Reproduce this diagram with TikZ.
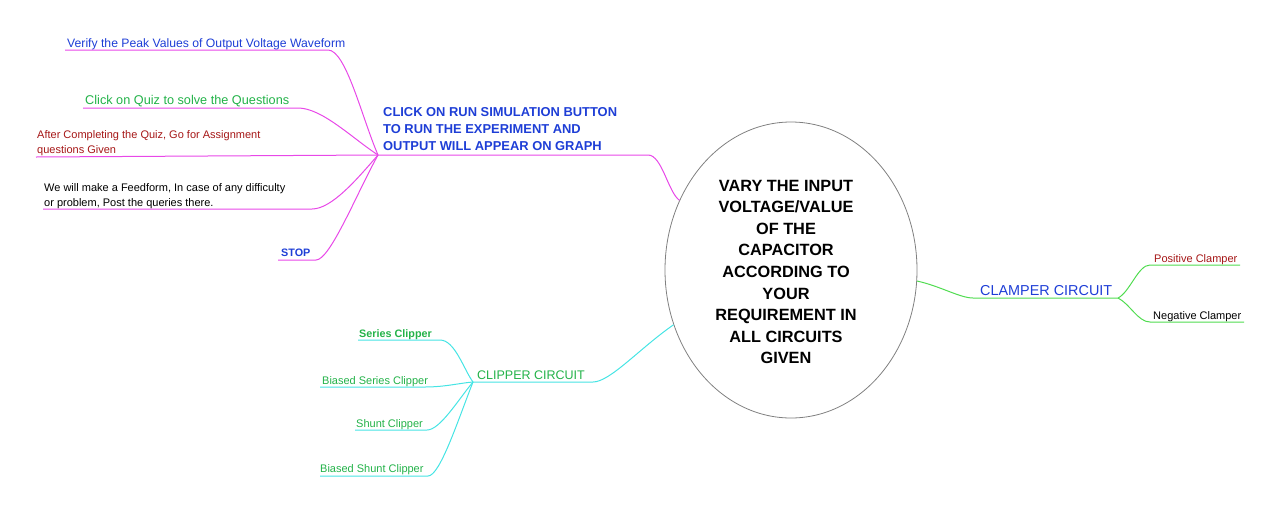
\documentclass[tikz,border=0pt]{standalone}
\usepackage{fontspec}
\setmainfont{Liberation Sans}
\usetikzlibrary{shapes.geometric}

\definecolor{magline}{RGB}{232,72,232}
\definecolor{cyanline}{RGB}{70,228,228}
\definecolor{greenline}{RGB}{80,220,80}
\definecolor{tblue}{RGB}{30,62,214}
\definecolor{tgreen}{RGB}{34,178,72}
\definecolor{tred}{RGB}{165,22,22}

\begin{document}
\begin{tikzpicture}[
  x=1pt, y=-1pt,
  centre/.style={ellipse, draw=black!50, line width=0.8pt,
              minimum width=252pt, minimum height=296pt, inner sep=0pt,
              align=center, font=\bfseries\fontsize{16.3}{21.6}\selectfont},
  leaf/.style={inner sep=0pt, align=left, font=\fontsize{11}{15}\selectfont},
  bigleaf/.style={leaf, font=\fontsize{12.7}{15}\selectfont},
  boldleaf/.style={leaf, font=\bfseries\fontsize{10.8}{15}\selectfont},
  branch/.style={inner sep=0pt, align=left},
  mag/.style={draw=magline, line width=1pt},
  cya/.style={draw=cyanline, line width=1pt},
  grn/.style={draw=greenline, line width=1pt},
]

\useasboundingbox (0,0) rectangle (1280,512);

% hubs
\coordinate (runhub) at (378,155);
\coordinate (cliphub) at (473,382);
\coordinate (clamphub) at (1118,298);

% centre
\node[centre] (vary) at (791,270) {};
\node[align=center, inner sep=0pt, font=\bfseries\fontsize{16.3}{21.6}\selectfont]
  (varytext) at (786,272) {VARY THE INPUT\\VOLTAGE/VALUE\\OF THE\\CAPACITOR\\ACCORDING TO\\YOUR\\REQUIREMENT IN\\ALL CIRCUITS\\GIVEN};

% run simulation branch
\node[branch, anchor=north west, text=tblue,
      font=\bfseries\fontsize{12.9}{17}\selectfont] (run) at (383,107.5)
  {CLICK ON RUN SIMULATION BUTTON\\TO RUN THE EXPERIMENT AND\\OUTPUT WILL APPEAR ON GRAPH};
\coordinate (run-e) at (648,155);
\draw[mag] (runhub) -- (run-e) .. controls (662,155) and (668,192) .. (vary.148);

\node[bigleaf, anchor=base west, text=tblue, font=\fontsize{12.2}{15}\selectfont] (verify) at (67,47)
  {Verify the Peak Values of Output Voltage Waveform};
\coordinate (verify-a) at (65,50);
\coordinate (verify-b) at (328,50);
\draw[mag] (verify-a) -- (verify-b) .. controls (346,50) and (362,118) .. (runhub);

\node[bigleaf, anchor=base west, text=tgreen] (quiz) at (85,104.5)
  {Click on Quiz to solve the Questions};
\coordinate (quiz-a) at (83,108);
\coordinate (quiz-b) at (298,108);
\draw[mag] (quiz-a) -- (quiz-b) .. controls (322,108) and (352,138) .. (runhub);

\node[leaf, anchor=north west, text=tred] (assign) at (37,130)
  {After Completing the Quiz, Go for Assignment\\questions Given};
\coordinate (assign-a) at (36,157);
\draw[mag] (assign-a) -- (runhub);

\node[leaf, anchor=north west] (feed) at (44,183)
  {We will make a Feedform, In case of any difficulty\\or problem, Post the queries there.};
\coordinate (feed-a) at (43,209);
\coordinate (feed-b) at (312,209);
\draw[mag] (feed-a) -- (feed-b) .. controls (332,209) and (358,178) .. (runhub);

\node[boldleaf, anchor=base west, text=tblue] (stop) at (281,256) {STOP};
\coordinate (stop-a) at (278,260);
\coordinate (stop-b) at (316,260);
\draw[mag] (stop-a) -- (stop-b) .. controls (330,260) and (356,195) .. (runhub);

% clipper branch
\node[branch, anchor=base west, text=tgreen,
      font=\fontsize{12.5}{15}\selectfont] (clipper) at (477,379) {CLIPPER CIRCUIT};
\coordinate (clip-e) at (593,382);
\draw[cya] (cliphub) -- (clip-e) .. controls (610,382) and (640,348) .. (vary.205);

\node[boldleaf, anchor=base west, text=tgreen] (series) at (359,337) {Series Clipper};
\coordinate (series-a) at (358,340);
\coordinate (series-b) at (440,340);
\draw[cya] (series-a) -- (series-b) .. controls (455,340) and (464,370) .. (cliphub);

\node[leaf, anchor=base west, text=tgreen] (bseries) at (322,384) {Biased Series Clipper};
\coordinate (bseries-a) at (320,387);
\coordinate (bseries-b) at (425,387);
\draw[cya] (bseries-a) -- (bseries-b) .. controls (445,387) and (460,383) .. (cliphub);

\node[leaf, anchor=base west, text=tgreen] (shunt) at (356,427) {Shunt Clipper};
\coordinate (shunt-a) at (355,430);
\coordinate (shunt-b) at (427,430);
\draw[cya] (shunt-a) -- (shunt-b) .. controls (440,430) and (458,400) .. (cliphub);

\node[leaf, anchor=base west, text=tgreen] (bshunt) at (320,472.5) {Biased Shunt Clipper};
\coordinate (bshunt-a) at (320,476);
\coordinate (bshunt-b) at (428,476);
\draw[cya] (bshunt-a) -- (bshunt-b) .. controls (440,476) and (458,420) .. (cliphub);

% clamper branch
\node[branch, anchor=base west, text=tblue,
      font=\fontsize{14.4}{17}\selectfont] (clamper) at (980,295) {CLAMPER CIRCUIT};
\coordinate (clamp-e) at (973,298);
\draw[grn] (vary.355) .. controls (940,286) and (960,298) .. (clamp-e) -- (clamphub);

\node[leaf, anchor=base west, text=tred] (pos) at (1154,262) {Positive Clamper};
\coordinate (pos-a) at (1150,265);
\coordinate (pos-b) at (1240,265);
\draw[grn] (clamphub) .. controls (1130,292) and (1138,265) .. (pos-a) -- (pos-b);

\node[leaf, anchor=base west] (neg) at (1153,319) {Negative Clamper};
\coordinate (neg-a) at (1150,322);
\coordinate (neg-b) at (1244,322);
\draw[grn] (clamphub) .. controls (1130,304) and (1138,322) .. (neg-a) -- (neg-b);

\end{tikzpicture}
\end{document}
